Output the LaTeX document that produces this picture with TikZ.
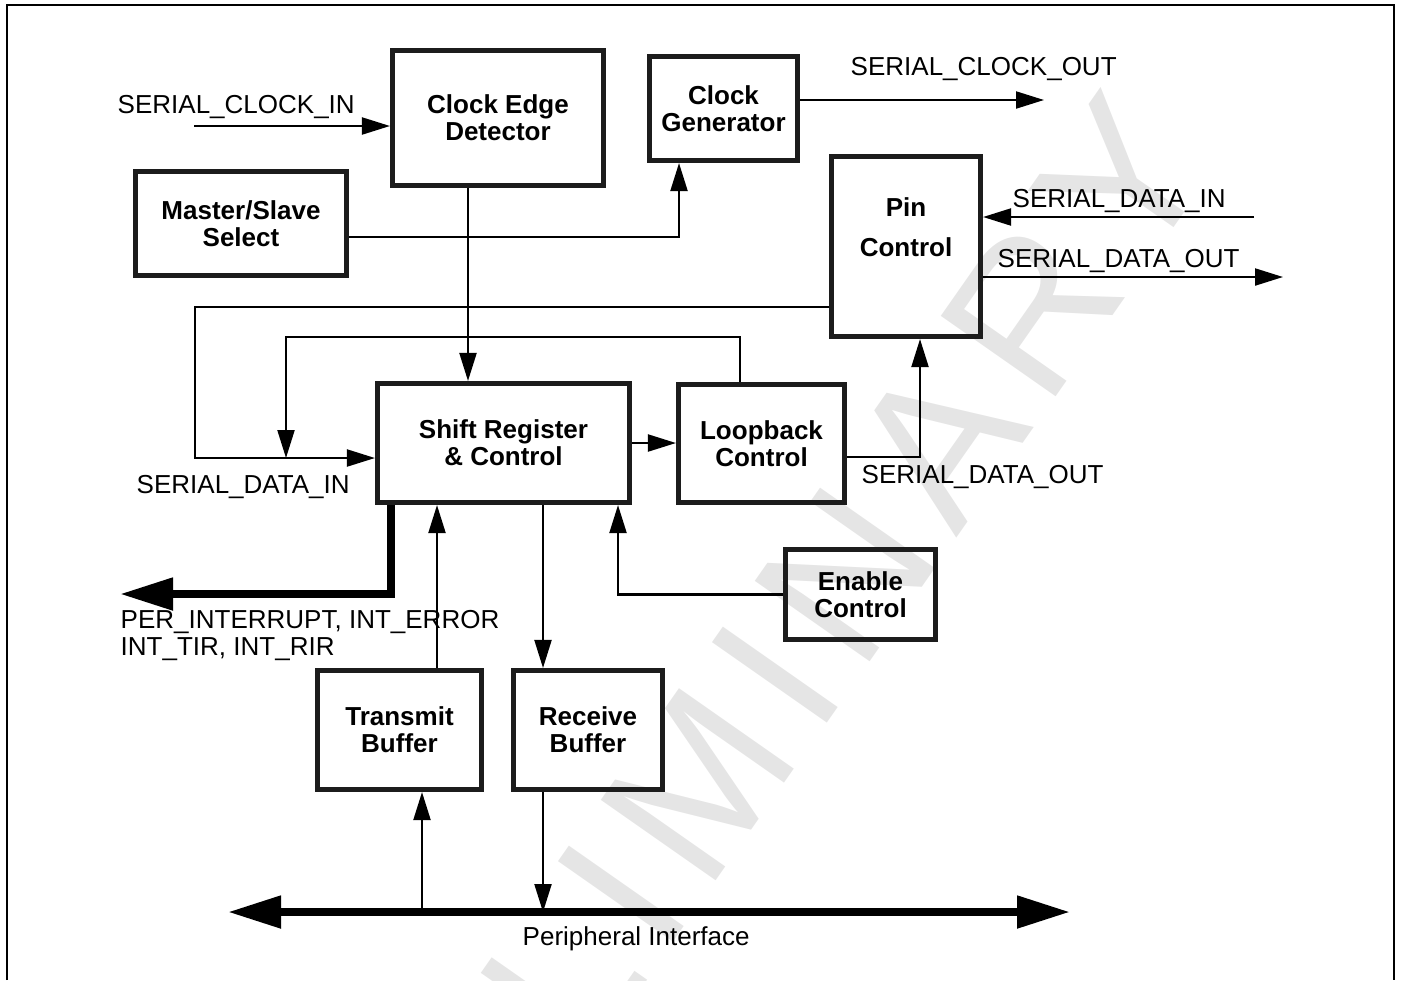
\documentclass[tikz,border=0pt]{standalone}
\usepackage{fontspec}
\setmainfont{Liberation Sans}
\usetikzlibrary{arrows.meta,positioning,calc}
\definecolor{wmgray}{RGB}{229,229,229}
\definecolor{edge}{RGB}{28,28,28}
\tikzset{
  blk/.style={draw=edge,line width=1.45pt,align=center,inner sep=0pt,font=\fontsize{7.4}{7.7}\selectfont\bfseries},
  lbl/.style={font=\fontsize{7.4}{7.7}\selectfont,inner sep=0pt,align=left},
  arr/.style={-{Triangle[length=2.8mm,width=1.7mm]},line width=0.6pt},
  bus/.style={line width=2.3pt},
  wmark/.style={text=wmgray,font=\fontsize{58}{58}\selectfont\addfontfeatures{LetterSpace=10},inner sep=0pt},
}
\newcommand{\bigtip}{Triangle[length=5.3mm,width=3.1mm]}

\begin{document}
\begin{tikzpicture}
 \useasboundingbox (0,0) rectangle (14.01,9.80);
 \node[wmark,rotate=55] (wm) at (7.07,2.08) {PRELIMINARY};
 \draw[line width=0.6pt] (0.07,0) |- (13.94,9.75) -- (13.94,0);
 % blocks
 \node[blk,minimum width=2.11cm,minimum height=1.35cm] (ced) at (4.98,8.62) {Clock Edge\\Detector};
 \node[blk,minimum width=1.48cm,minimum height=1.04cm] (cgen) at (7.235,8.715) {Clock\\Generator};
 \node[blk,minimum width=2.11cm,minimum height=1.04cm] (msel) at (2.41,7.565) {Master/Slave\\Select};
 \node[blk,minimum width=1.49cm,minimum height=1.80cm] (pin) at (9.06,7.335) {};
 \node[blk,draw=none] (pintxt) at (9.06,7.525) {Pin\\[1.3mm]Control};
 \node[blk,minimum width=2.52cm,minimum height=1.19cm] (shift) at (5.035,5.37) {Shift Register\\\& Control};
 \node[blk,minimum width=1.66cm,minimum height=1.18cm] (loop) at (7.615,5.365) {Loopback\\Control};
 \node[blk,minimum width=1.50cm,minimum height=0.90cm] (enab) at (8.605,3.855) {Enable\\Control};
 \node[blk,minimum width=1.64cm,minimum height=1.19cm] (tbuf) at (3.995,2.50) {Transmit\\Buffer};
 \node[blk,minimum width=1.49cm,minimum height=1.19cm] (rbuf) at (5.88,2.50) {Receive\\Buffer};
 % clock paths
 \coordinate (scin) at (1.94,8.54);
 \draw[arr] (scin) -- (scin -| ced.west);
 \node[lbl,anchor=base west] (scinl) at (1.17,8.67) {SERIAL\_CLOCK\_IN};
 \draw[arr] ([xshift=-3mm]ced.south) -- ([xshift=-3mm]ced.south |- shift.north);
 \draw[arr] ([yshift=-1.35mm]msel.east) -| ([xshift=-4.45mm]cgen.south);
 \coordinate (scout) at (10.44,8.80);
 \draw[arr] (cgen.east |- scout) -- (scout);
 \node[lbl,anchor=base west] (scoutl) at (8.50,9.05) {SERIAL\_CLOCK\_OUT};
 % pins
 \coordinate (sdin) at (12.54,7.63);
 \draw[arr] (sdin) -- (sdin -| pin.east);
 \node[lbl,anchor=base west] (sdinl) at (10.12,7.73) {SERIAL\_DATA\_IN};
 \coordinate (sdout) at (12.83,7.03);
 \draw[arr] (sdout -| pin.east) -- (sdout);
 \node[lbl,anchor=base west] (sdoutl) at (9.97,7.13) {SERIAL\_DATA\_OUT};
 % data loop
 \draw[arr] (pin.west |- 0,6.73) -- (1.95,6.73) |- ([yshift=-1.5mm]shift.west);
 \draw[arr] ([xshift=-2.15mm]loop.north) |- (2.86,6.43) -- (2.86,5.22);
 \node[lbl,anchor=base west] (sdinl2) at (1.36,4.87) {SERIAL\_DATA\_IN};
 \draw[arr] (shift.east) -- (shift.east -| loop.west);
 \draw[arr] ([yshift=-1.35mm]loop.east) -| ([xshift=1.4mm]pin.south);
 \node[lbl,anchor=base west] (sdoutl2) at (8.61,4.97) {SERIAL\_DATA\_OUT};
 % interrupts
 \coordinate (irq) at (1.20,3.86);
 \draw[bus,-{\bigtip}] ([xshift=-11.25mm]shift.south) |- (irq);
 \node[lbl,anchor=north west] (irql) at (1.20,3.70) {PER\_INTERRUPT, INT\_ERROR\\INT\_TIR, INT\_RIR};
 \draw[arr] ([xshift=3.75mm]tbuf.north) -- ([xshift=3.75mm]tbuf.north |- shift.south);
 \draw[arr] ([xshift=-4.5mm]rbuf.north |- shift.south) -- ([xshift=-4.5mm]rbuf.north);
 \draw[arr] (enab.west) -| ([xshift=11.45mm]shift.south);
 % peripheral bus
 \coordinate (busl) at (2.28,0.68);
 \coordinate (busr) at (10.70,0.68);
 \draw[bus,{\bigtip}-{\bigtip}] (busl) -- (busr);
 \draw[arr] ([xshift=2.25mm]tbuf.south |- busl) -- ([xshift=2.25mm]tbuf.south);
 \draw[arr] ([xshift=-4.5mm]rbuf.south) -- ([xshift=-4.5mm]rbuf.south |- busl);
 \node[lbl,anchor=base west] (bustxt) at (5.22,0.35) {Peripheral Interface};
\end{tikzpicture}
\end{document}
